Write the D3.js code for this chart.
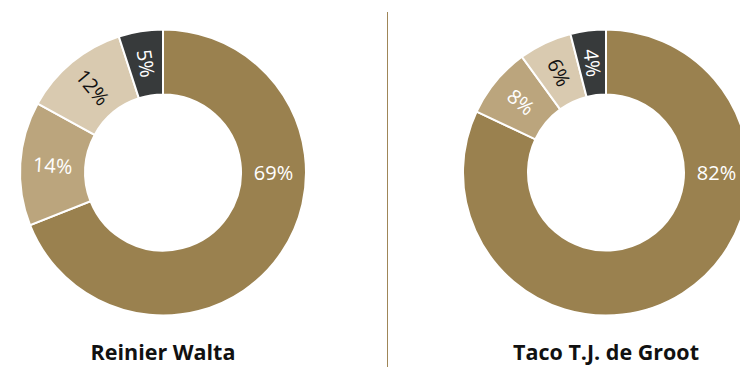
<!DOCTYPE html>
<html>
<head>
<meta charset="utf-8">
<script src="https://cdn.jsdelivr.net/npm/d3@7"></script>
<style>
  html, body { margin: 0; padding: 0; background: #fff; }
  svg { display: block; }
</style>
</head>
<body>
<svg id="chart" width="740" height="367"></svg>
<script>
// Share breakdown per person, in slice order (clockwise from 12 o'clock)
const people = ["Reinier Walta", "Taco T.J. de Groot"];
const segments = ["a", "b", "c", "d"];
const waltaValues = [69, 14, 12, 5];
const degrootValues = [82, 8, 6, 4];
const sliceColors = ["#9a814f", "#bba57d", "#d9cab0", "#373a3b"];
const labelColors = ["#ffffff", "#ffffff", "#111111", "#ffffff"];

const svg = d3.select("#chart");
const W = 740, H = 367;
const outerR = 143, innerR = 78;
const cy = 172.5;
const centers = [163, 606];

const pie = d3.pie().sort(null).value(d => d.value);
const arc = d3.arc().innerRadius(innerR).outerRadius(outerR);
const labelR = (innerR + outerR) / 2;

const color = d3.scaleOrdinal().domain(segments).range(sliceColors);
const textColor = d3.scaleOrdinal().domain(segments).range(labelColors);

const datasets = [waltaValues, degrootValues];

// Divider between the two donuts
svg.append("line")
  .attr("x1", 387.5).attr("x2", 387.5)
  .attr("y1", 12).attr("y2", H)
  .attr("stroke", "#9f8658")
  .attr("stroke-width", 1);

datasets.forEach((vals, i) => {
  const data = segments.map((s, j) => ({ key: s, value: vals[j] }));
  const g = svg.append("g").attr("transform", `translate(${centers[i]},${cy})`);

  const arcs = pie(data);

  g.selectAll("path")
    .data(arcs)
    .join("path")
    .attr("d", arc)
    .attr("fill", d => color(d.data.key))
    .attr("stroke", "#fff")
    .attr("stroke-width", 2);

  g.selectAll("text")
    .data(arcs)
    .join("text")
    .attr("transform", d => {
      const span = d.endAngle - d.startAngle;
      if (span > Math.PI) {
        // the large slice is labelled on the horizontal at its right side
        return `translate(${labelR},0)`;
      }
      const mid = (d.startAngle + d.endAngle) / 2;
      const x = Math.sin(mid) * labelR;
      const y = -Math.cos(mid) * labelR;
      const deg = mid * 180 / Math.PI;
      // narrow slices carry a radial label
      const rot = span < 0.35 * Math.PI ? deg - 270 : 0;
      return `translate(${x},${y}) rotate(${rot})`;
    })
    .attr("text-anchor", "middle")
    .attr("dy", "0.36em")
    .attr("font-family", "'Open Sans', sans-serif")
    .attr("font-size", 20)
    .attr("fill", d => textColor(d.data.key))
    .text(d => d.data.value + "%");

  svg.append("text")
    .attr("x", centers[i])
    .attr("y", 360)
    .attr("text-anchor", "middle")
    .attr("font-family", "'Open Sans', sans-serif")
    .attr("font-weight", 700)
    .attr("font-size", 21.5)
    .attr("fill", "#111")
    .text(people[i]);
});
</script>
</body>
</html>
